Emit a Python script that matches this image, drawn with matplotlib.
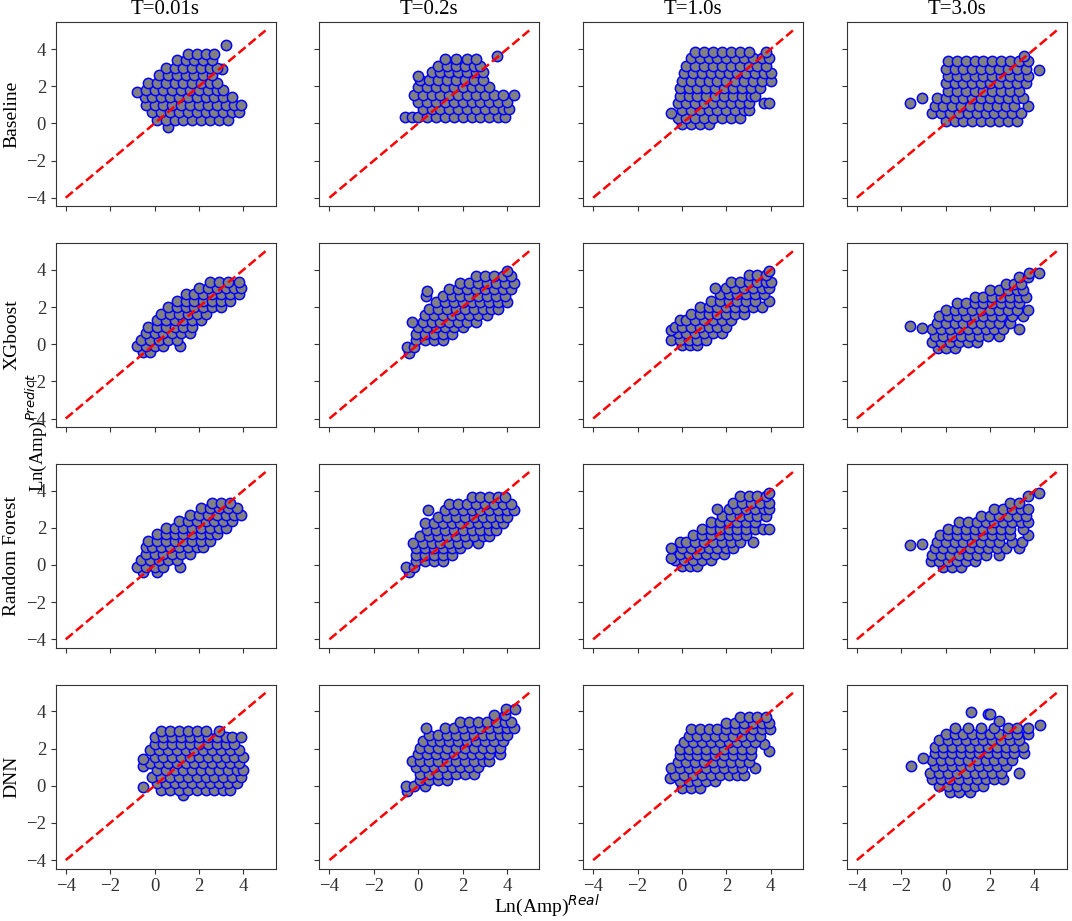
import matplotlib
matplotlib.use("Agg")
import matplotlib.pyplot as plt

plt.rcParams["font.family"] = ["Liberation Serif", "DejaVu Serif"]
plt.rcParams["mathtext.fontset"] = "dejavusans"

periods = ["T=0.01s", "T=0.2s", "T=1.0s", "T=3.0s"]
models = ["Baseline", "XGboost", "Random Forest", "DNN"]

# each cloud: rows of (predicted, [real values...])
base_t001 = [
    (-0.2, [0.6]),
    (0.2, [0.1, 0.5, 0.9, 1.3, 1.7, 2.1, 2.5, 2.9, 3.3]),
    (0.6, [-0.1, 0.3, 0.7, 1.1, 1.5, 1.9, 2.3, 2.7, 3.1, 3.5, 3.8]),
    (1.0, [-0.4, 0.0, 0.4, 0.8, 1.2, 1.6, 2.0, 2.4, 2.8, 3.2, 3.6, 3.9]),
    (1.4, [-0.45, -0.1, 0.3, 0.7, 1.1, 1.5, 1.9, 2.3, 2.7, 3.1, 3.5]),
    (1.7, [-0.8]),
    (1.8, [-0.4, 0.0, 0.4, 0.8, 1.2, 1.6, 2.0, 2.4, 2.8, 3.1]),
    (2.2, [-0.3, 0.1, 0.5, 0.9, 1.3, 1.7, 2.1, 2.5, 2.8]),
    (2.6, [0.2, 0.6, 1.0, 1.4, 1.8, 2.2, 2.6]),
    (2.9, [3.05]),
    (3.0, [0.5, 0.9, 1.3, 1.7, 2.1, 2.5, 2.8]),
    (3.4, [1.0, 1.4, 1.8, 2.2, 2.6]),
    (3.75, [1.5, 1.9, 2.3, 2.7]),
    (4.2, [3.2]),
]
base_t02 = [
    (0.35, [-0.6, -0.3, 0.0, 0.4, 0.8, 1.2, 1.6, 2.0, 2.4, 2.8, 3.2, 3.6, 3.9]),
    (0.75, [0.2, 0.6, 1.0, 1.4, 1.8, 2.2, 2.6, 3.0, 3.4, 3.8, 4.1]),
    (1.15, [0.0, 0.4, 0.8, 1.2, 1.6, 2.0, 2.4, 2.8, 3.2, 3.6, 4.0]),
    (1.55, [-0.2, 0.2, 0.6, 1.0, 1.4, 1.8, 2.2, 2.6, 3.0, 3.4, 3.8, 4.3]),
    (1.95, [0.0, 0.4, 0.8, 1.2, 1.6, 2.0, 2.4, 2.8, 3.2]),
    (2.35, [0.1, 0.5, 0.9, 1.3, 1.7, 2.1, 2.5, 2.9]),
    (2.55, [0.0]),
    (2.75, [0.6, 1.0, 1.4, 1.8, 2.2, 2.6, 2.9]),
    (3.1, [0.9, 1.3, 1.7, 2.1, 2.5, 2.8]),
    (3.45, [1.2, 1.7, 2.2, 2.6]),
    (3.65, [3.55]),
]
base_t10 = [
    (-0.05, [0.0, 0.4, 0.8, 1.2]),
    (0.3, [-0.2, 0.2, 0.6, 1.0, 1.4, 1.8, 2.2, 2.6]),
    (0.55, [-0.5]),
    (0.7, [0.0, 0.4, 0.8, 1.2, 1.6, 2.0, 2.4, 2.8, 3.0]),
    (1.1, [-0.2, 0.2, 0.6, 1.0, 1.4, 1.8, 2.2, 2.6, 3.0, 3.7, 3.9]),
    (1.5, [-0.1, 0.3, 0.7, 1.1, 1.5, 1.9, 2.3, 2.7, 3.1, 3.3]),
    (1.9, [-0.1, 0.3, 0.7, 1.1, 1.5, 1.9, 2.3, 2.7, 3.1, 3.5]),
    (2.3, [0.0, 0.4, 0.8, 1.2, 1.6, 2.0, 2.4, 2.8, 3.2, 3.6, 4.0]),
    (2.7, [0.1, 0.5, 0.9, 1.3, 1.7, 2.1, 2.5, 2.9, 3.3, 3.7, 4.0]),
    (3.1, [0.2, 0.6, 1.0, 1.4, 1.8, 2.2, 2.6, 3.0, 3.4, 3.8]),
    (3.5, [0.4, 0.8, 1.2, 1.6, 2.0, 2.4, 2.8, 3.2, 3.6, 3.9]),
    (3.85, [0.6, 1.0, 1.4, 1.8, 2.2, 2.6, 3.0, 3.8]),
]
base_t30 = [
    (0.15, [0.0, 0.4, 0.8, 1.2, 1.6, 2.0, 2.4, 2.8, 3.2]),
    (0.55, [-0.6, -0.2, 0.2, 0.6, 1.0, 1.4, 1.8, 2.2, 2.6, 3.0, 3.4]),
    (0.95, [-0.5, -0.1, 0.3, 0.7, 1.1, 1.5, 1.9, 2.3, 2.7, 3.1, 3.7]),
    (1.1, [-1.6]),
    (1.35, [-1.05, -0.4, 0.0, 0.4, 0.8, 1.2, 1.6, 2.0, 2.4, 2.8, 3.2, 3.5]),
    (1.75, [0.1, 0.5, 0.9, 1.3, 1.7, 2.1, 2.5, 2.9, 3.3]),
    (2.15, [0.0, 0.4, 0.8, 1.2, 1.6, 2.0, 2.4, 2.8, 3.2, 3.6]),
    (2.55, [0.1, 0.5, 0.9, 1.3, 1.7, 2.1, 2.5, 2.9, 3.3, 3.7]),
    (2.85, [4.2]),
    (2.95, [0.0, 0.4, 0.8, 1.2, 1.6, 2.0, 2.4, 2.8, 3.2, 3.6]),
    (3.35, [0.1, 0.5, 0.9, 1.3, 1.7, 2.1, 2.5, 2.9, 3.3, 3.7]),
    (3.65, [3.55]),
]

xgb_t001 = [
    (-0.4, [-0.5, -0.2]),
    (-0.1, [-0.8, -0.4, 0.0, 0.4, 1.15]),
    (0.25, [-0.6, -0.2, 0.2, 0.6, 1.0]),
    (0.6, [-0.4, 0.0, 0.4, 0.8, 1.2, 1.6]),
    (0.95, [-0.3, 0.1, 0.5, 0.9, 1.3, 1.7]),
    (1.3, [0.1, 0.5, 0.9, 1.3, 1.7, 2.1]),
    (1.65, [0.3, 0.7, 1.1, 1.5, 1.9, 2.3]),
    (2.0, [0.6, 1.0, 1.4, 1.8, 2.2, 2.6, 3.0]),
    (2.35, [1.0, 1.4, 1.8, 2.2, 2.6, 3.0, 3.4]),
    (2.7, [1.4, 1.8, 2.2, 2.6, 3.0, 3.4, 3.8]),
    (3.05, [2.0, 2.4, 2.8, 3.2, 3.6, 3.9]),
    (3.35, [2.5, 2.9, 3.3, 3.8]),
]
xgb_t02 = [
    (-0.45, [-0.4]),
    (-0.15, [-0.5, -0.2]),
    (0.2, [-0.1, 0.3, 0.7, 1.1]),
    (0.55, [-0.1, 0.3, 0.7, 1.1, 1.5]),
    (0.9, [0.0, 0.4, 0.8, 1.2, 1.6, 2.0]),
    (1.2, [-0.3, 0.2, 0.6, 1.0, 1.4, 1.8, 2.2, 2.6]),
    (1.55, [0.3, 0.7, 1.1, 1.5, 1.9, 2.3, 2.7, 3.1]),
    (1.9, [0.5, 0.9, 1.3, 1.7, 2.1, 2.5, 2.9, 3.3, 3.6]),
    (2.25, [0.8, 1.2, 1.6, 2.0, 2.4, 2.8, 3.2, 3.6, 4.0]),
    (2.6, [0.35, 1.1, 1.5, 1.9, 2.3, 2.7, 3.1, 3.5, 3.9]),
    (2.85, [0.4]),
    (2.95, [1.4, 1.8, 2.2, 2.6, 3.0, 3.4, 3.8, 4.2]),
    (3.3, [1.9, 2.3, 2.7, 3.1, 3.5, 3.9, 4.3]),
    (3.65, [2.6, 3.0, 3.4, 3.8, 4.2]),
    (3.95, [4.0]),
]
xgb_t10 = [
    (-0.05, [0.0, 0.35, 0.7]),
    (0.25, [-0.5, -0.1, 0.3, 0.7, 1.1]),
    (0.6, [-0.2, 0.2, 0.6, 1.0, 1.4, 1.8]),
    (0.75, [-0.5]),
    (0.95, [-0.3, 0.0, 0.4, 0.8, 1.2, 1.6, 2.0]),
    (1.3, [-0.1, 0.2, 0.6, 1.0, 1.4, 1.8, 2.2]),
    (1.65, [0.4, 0.8, 1.2, 1.6, 2.0, 2.4, 2.8]),
    (2.0, [0.8, 1.2, 1.6, 2.0, 2.4, 2.8, 3.2, 3.6]),
    (2.35, [1.3, 1.7, 2.1, 2.5, 2.9, 3.3, 3.9]),
    (2.7, [1.7, 2.1, 2.5, 2.9, 3.3, 3.7]),
    (3.0, [1.5, 2.0, 2.4, 2.8, 3.2, 3.6, 3.9]),
    (3.35, [2.2, 2.6, 3.0, 3.4, 3.8, 4.0]),
    (3.7, [3.0, 3.4, 3.8]),
    (3.95, [3.9]),
]
xgb_t30 = [
    (-0.2, [-0.35, 0.0, 0.4]),
    (0.1, [-0.6, -0.2, 0.2, 0.6, 1.0, 1.4]),
    (0.45, [-0.5, -0.1, 0.3, 0.7, 1.1, 1.5, 1.9, 2.4]),
    (0.8, [-0.6, -0.2, 0.2, 0.6, 1.0, 1.4, 1.8, 2.2, 2.6, 3.3]),
    (0.85, [-1.05]),
    (1.0, [-1.6]),
    (1.15, [-0.4, 0.0, 0.4, 0.8, 1.2, 1.6, 2.0, 2.4, 2.9]),
    (1.5, [-0.3, 0.1, 0.5, 0.9, 1.3, 1.7, 2.1, 2.5, 3.0, 3.5]),
    (1.85, [0.0, 0.4, 0.8, 1.2, 1.6, 2.0, 2.4, 2.8, 3.2, 3.7]),
    (2.2, [0.5, 0.9, 1.3, 1.7, 2.1, 2.5, 2.9, 3.3]),
    (2.55, [1.3, 1.7, 2.1, 2.5, 2.9, 3.3, 3.6]),
    (2.9, [2.0, 2.4, 2.8, 3.2, 3.5]),
    (3.25, [2.7, 3.1, 3.4]),
    (3.6, [3.3, 3.7]),
    (3.85, [3.75, 4.2]),
]

rf_t001 = [
    (-0.4, [-0.5, 0.1]),
    (-0.1, [-0.8, -0.4, 0.0, 0.4, 1.15]),
    (0.25, [-0.6, -0.2, 0.2, 0.6, 1.0]),
    (0.6, [-0.4, 0.0, 0.4, 0.8, 1.2, 1.6]),
    (0.95, [-0.4, -0.1, 0.3, 0.7, 1.1, 1.5, 1.9, 2.2]),
    (1.3, [-0.3, 0.1, 0.5, 0.9, 1.3, 1.7, 2.1, 2.5]),
    (1.65, [0.1, 0.5, 0.9, 1.3, 1.7, 2.1, 2.5, 2.8]),
    (2.0, [0.5, 0.9, 1.3, 1.7, 2.1, 2.5, 2.9, 3.2]),
    (2.35, [1.1, 1.5, 1.9, 2.3, 2.7, 3.1, 3.5]),
    (2.7, [1.6, 2.0, 2.4, 2.8, 3.2, 3.6, 3.9]),
    (3.05, [2.1, 2.5, 2.9, 3.3, 3.7]),
    (3.35, [2.6, 3.0, 3.4]),
]
rf_t02 = [
    (-0.35, [-0.4]),
    (-0.1, [-0.55, -0.2]),
    (0.2, [-0.1, 0.3, 0.7, 1.1]),
    (0.55, [-0.1, 0.3, 0.7, 1.1, 1.5]),
    (0.9, [-0.1, 0.3, 0.7, 1.1, 1.5, 1.9]),
    (1.2, [-0.25, 0.2, 0.6, 1.0, 1.4, 1.8, 2.2, 2.7]),
    (1.55, [0.1, 0.5, 0.9, 1.3, 1.7, 2.1, 2.5, 2.9, 3.2]),
    (1.9, [0.4, 0.8, 1.2, 1.6, 2.0, 2.4, 2.8, 3.2, 3.5]),
    (2.25, [0.3, 0.7, 1.1, 1.5, 1.9, 2.3, 2.7, 3.1, 3.5, 3.8]),
    (2.6, [0.9, 1.3, 1.7, 2.1, 2.5, 2.9, 3.3, 3.7, 4.0]),
    (2.95, [0.45, 1.2, 1.6, 2.0, 2.4, 2.8, 3.2, 3.6, 4.0, 4.3]),
    (3.3, [1.4, 1.8, 2.2, 2.6, 3.0, 3.4, 3.8, 4.2]),
    (3.65, [2.4, 2.8, 3.2, 3.6, 3.9]),
]
rf_t10 = [
    (-0.05, [0.0, 0.35, 0.7]),
    (0.25, [-0.3, 0.1, 0.5, 0.9, 1.3]),
    (0.4, [-0.5]),
    (0.6, [-0.1, 0.3, 0.7, 1.1, 1.5, 1.9]),
    (0.9, [-0.5, 0.0, 0.4, 0.8, 1.2, 1.6, 2.0, 2.3]),
    (1.25, [-0.1, 0.2, 0.6, 1.0, 1.4, 1.8, 2.2, 2.6, 3.2]),
    (1.6, [0.5, 0.9, 1.3, 1.7, 2.1, 2.5, 2.9]),
    (1.95, [0.9, 1.3, 1.7, 2.1, 2.5, 2.9, 3.3, 3.65, 3.9]),
    (2.3, [1.3, 1.7, 2.1, 2.5, 2.9, 3.3]),
    (2.65, [1.8, 2.2, 2.6, 3.0, 3.4, 3.8]),
    (3.0, [1.6, 2.1, 2.5, 2.9, 3.3, 3.7, 3.9]),
    (3.35, [2.3, 2.7, 3.1, 3.5, 3.9]),
    (3.7, [2.6, 3.0, 3.4, 3.8]),
    (3.9, [3.9]),
]
rf_t30 = [
    (-0.1, [-0.1, 0.3, 0.7]),
    (0.2, [-0.65, -0.3, 0.1, 0.5, 0.9, 1.3]),
    (0.55, [-0.6, -0.2, 0.2, 0.6, 1.0, 1.4, 1.8, 2.4]),
    (0.9, [-0.5, -0.1, 0.3, 0.7, 1.1, 1.5, 1.9, 2.3, 2.7, 3.3]),
    (1.05, [-1.6]),
    (1.13, [-1.05]),
    (1.25, [-0.4, 0.0, 0.4, 0.8, 1.2, 1.6, 2.0, 2.4, 3.0, 3.45]),
    (1.6, [-0.25, 0.1, 0.5, 0.9, 1.3, 1.7, 2.1, 2.5, 2.9, 3.7]),
    (1.95, [0.1, 0.5, 0.9, 1.3, 1.7, 2.1, 2.5, 2.9, 3.5]),
    (2.3, [0.6, 1.0, 1.4, 1.8, 2.2, 2.6, 3.0, 3.4, 3.7]),
    (2.65, [1.6, 2.0, 2.4, 2.8, 3.2, 3.6]),
    (3.0, [2.2, 2.6, 3.0, 3.4, 3.7]),
    (3.35, [2.9, 3.3]),
    (3.7, [3.7]),
    (3.9, [4.2]),
]

dnn_t001 = [
    (-0.5, [1.3]),
    (-0.2, [0.3, 0.7, 1.1, 1.5, 1.9, 2.3, 2.7, 3.1, 3.4]),
    (-0.05, [-0.5]),
    (0.15, [0.1, 0.5, 0.9, 1.3, 1.7, 2.1, 2.5, 2.9, 3.3, 3.7]),
    (0.5, [-0.1, 0.3, 0.7, 1.1, 1.5, 1.9, 2.3, 2.7, 3.1, 3.5, 3.9]),
    (0.85, [0.1, 0.5, 0.9, 1.3, 1.7, 2.1, 2.5, 2.9, 3.3, 3.7, 4.0]),
    (1.05, [-0.5]),
    (1.2, [-0.2, 0.2, 0.6, 1.0, 1.4, 1.8, 2.2, 2.6, 3.0, 3.4, 3.8]),
    (1.45, [-0.5]),
    (1.55, [0.0, 0.4, 0.8, 1.2, 1.6, 2.0, 2.4, 2.8, 3.2, 3.6, 4.0]),
    (1.9, [-0.2, 0.2, 0.6, 1.0, 1.4, 1.8, 2.2, 2.6, 3.0, 3.4, 3.8]),
    (2.25, [0.0, 0.4, 0.8, 1.2, 1.6, 2.0, 2.4, 2.8, 3.2, 3.6]),
    (2.6, [0.0, 0.4, 0.8, 1.2, 1.6, 2.0, 2.4, 2.8, 3.2, 3.5, 3.9]),
    (2.95, [0.3, 0.7, 1.1, 1.5, 1.9, 2.3, 2.9]),
]
dnn_t02 = [
    (-0.3, [-0.5]),
    (0.0, [-0.55, -0.2, 0.3]),
    (0.3, [0.1, 0.5, 0.9, 1.3]),
    (0.65, [0.1, 0.5, 0.9, 1.3, 1.7, 2.1, 2.5]),
    (1.0, [-0.1, 0.3, 0.7, 1.1, 1.5, 1.9, 2.3, 2.7]),
    (1.35, [-0.3, 0.1, 0.5, 0.9, 1.3, 1.7, 2.1, 2.5, 2.9, 3.2]),
    (1.7, [0.0, 0.4, 0.8, 1.2, 1.6, 2.0, 2.4, 2.8, 3.2, 3.7]),
    (2.05, [0.1, 0.5, 0.9, 1.3, 1.7, 2.1, 2.5, 2.9, 3.3, 3.7]),
    (2.4, [0.2, 0.6, 1.0, 1.4, 1.8, 2.2, 2.6, 3.0, 3.4, 3.8]),
    (2.75, [0.5, 0.9, 1.3, 1.7, 2.1, 2.5, 2.9, 3.3, 3.7, 4.0]),
    (3.1, [0.35, 1.2, 1.6, 2.0, 2.4, 2.8, 3.2, 3.6, 4.0, 4.3]),
    (3.45, [1.9, 2.3, 2.7, 3.1, 3.5, 3.9, 4.2]),
    (3.8, [3.4, 3.9]),
    (4.15, [3.95, 4.35]),
]
dnn_t10 = [
    (-0.1, [0.0, 0.4, 0.8]),
    (0.25, [-0.1, 0.3, 0.7, 1.1, 1.5]),
    (0.4, [-0.55]),
    (0.6, [-0.3, 0.1, 0.5, 0.9, 1.3, 1.7, 2.1, 2.5, 2.8]),
    (0.95, [-0.5, -0.1, 0.3, 0.7, 1.1, 1.5, 1.9, 2.3, 2.7, 3.3]),
    (1.3, [-0.2, 0.2, 0.6, 1.0, 1.4, 1.8, 2.2, 2.6, 3.0]),
    (1.65, [-0.1, 0.3, 0.7, 1.1, 1.5, 1.9, 2.3, 2.7, 3.1]),
    (1.85, [3.9]),
    (2.0, [-0.1, 0.3, 0.7, 1.1, 1.5, 1.9, 2.3, 2.7, 3.1]),
    (2.25, [3.7]),
    (2.35, [0.1, 0.5, 0.9, 1.3, 1.7, 2.1, 2.5, 2.9, 3.3]),
    (2.7, [0.3, 0.7, 1.1, 1.5, 1.9, 2.3, 2.7, 3.1, 3.5]),
    (3.05, [0.4, 0.8, 1.2, 1.6, 2.0, 2.4, 2.8, 3.2, 3.6, 3.95]),
    (3.4, [2.0, 2.4, 2.8, 3.2, 3.6, 3.9]),
    (3.7, [2.6, 3.0, 3.4, 3.8]),
]
dnn_t30 = [
    (-0.35, [0.2, 0.6, 1.1]),
    (0.0, [-0.3, 0.1, 0.5, 0.9, 1.3, 1.7]),
    (0.35, [-0.6, -0.2, 0.2, 0.6, 1.0, 1.4, 1.8, 2.2, 2.6]),
    (0.7, [-0.7, -0.3, 0.1, 0.5, 0.9, 1.3, 1.7, 2.1, 2.5, 3.3]),
    (1.05, [-1.57, -0.5, -0.1, 0.3, 0.7, 1.1, 1.5, 1.9, 2.3, 2.7]),
    (1.4, [-0.6, -0.2, 0.2, 0.6, 1.0, 1.4, 1.8, 2.2, 2.6, 3.0]),
    (1.52, [-1.03]),
    (1.75, [-0.5, -0.1, 0.3, 0.7, 1.1, 1.5, 1.9, 2.3, 2.7, 3.1, 3.55]),
    (2.1, [-0.5, -0.1, 0.3, 0.7, 1.1, 1.5, 1.9, 2.3, 2.7, 3.1, 3.5]),
    (2.45, [-0.3, 0.1, 0.5, 0.9, 1.3, 1.7, 2.1, 2.5, 2.9, 3.3]),
    (2.8, [0.0, 0.4, 0.8, 1.2, 1.6, 2.0, 2.4, 2.8, 3.2, 3.7]),
    (3.1, [0.4, 1.0, 1.6, 2.2, 2.8, 3.2, 3.7]),
    (3.25, [4.23]),
    (3.5, [2.4]),
    (3.87, [1.9, 2.0]),
    (3.95, [1.15]),
]

clouds = [
    [base_t001, base_t02, base_t10, base_t30],
    [xgb_t001, xgb_t02, xgb_t10, xgb_t30],
    [rf_t001, rf_t02, rf_t10, rf_t30],
    [dnn_t001, dnn_t02, dnn_t10, dnn_t30],
]
diag = [-4, 5]

fig, axes = plt.subplots(4, 4, figsize=(10.72, 9.21), dpi=100, sharex=True, sharey=True)
fig.subplots_adjust(left=0.052, right=0.995, top=0.976, bottom=0.057, wspace=0.2, hspace=0.2)

for i in range(4):
    for j in range(4):
        ax = axes[i, j]
        rows = clouds[i][j]
        xs = [x for y, row in rows for x in row]
        ys = [y for y, row in rows for x in row]
        ax.scatter(xs, ys, s=55, c="gray", edgecolors="blue", linewidths=1.1)
        ax.plot(diag, diag, "r--", lw=1.8)
        ax.tick_params(labelsize=13.5, colors="#333333")
        for sp in ax.spines.values():
            sp.set_color("#333333")
        if i == 0:
            ax.set_title(periods[j], fontsize=15)
        if j == 0:
            ax.set_ylabel(models[i], fontsize=14)

axes[0, 0].set_xticks([-4, -2, 0, 2, 4])
axes[0, 0].set_yticks([-4, -2, 0, 2, 4])

# the shared axis labels sit over the tick labels, as in the original
fig.text(0.51, 0.002, "Ln(Amp)$^{Real}$", ha="center", va="bottom", fontsize=14)
fig.text(0.034, 0.53, "Ln(Amp)$^{Predict}$", ha="center", va="center", rotation=90, fontsize=13.5)

fig.savefig("out.png", dpi=100)
